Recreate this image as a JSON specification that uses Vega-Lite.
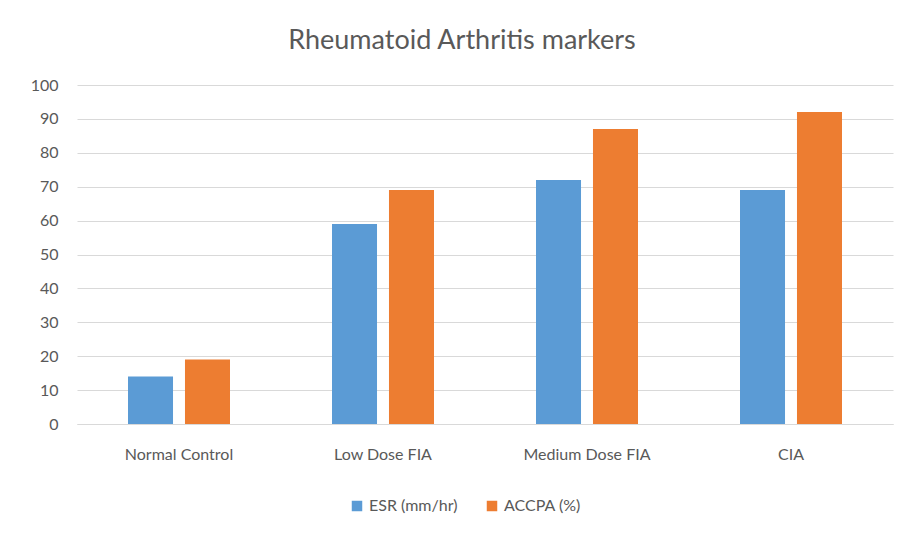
{
  "$schema": "https://vega.github.io/schema/vega-lite/v6.json",
  "width": 816,
  "height": 339,
  "autosize": "none",
  "padding": {"left": 77, "top": 85, "right": 14, "bottom": 109},
  "background": "white",
  "title": {
    "text": "Rheumatoid Arthritis markers",
    "font": "Lato",
    "fontSize": 27,
    "fontWeight": "normal",
    "color": "#595959",
    "anchor": "middle",
    "dx": -23,
    "offset": 22
  },
  "data": {
    "values": [
      {"group": "Normal Control", "series": "ESR (mm/hr)", "value": 14},
      {"group": "Normal Control", "series": "ACCPA (%)", "value": 19},
      {"group": "Low Dose FIA", "series": "ESR (mm/hr)", "value": 59},
      {"group": "Low Dose FIA", "series": "ACCPA (%)", "value": 69},
      {"group": "Medium Dose FIA", "series": "ESR (mm/hr)", "value": 72},
      {"group": "Medium Dose FIA", "series": "ACCPA (%)", "value": 87},
      {"group": "CIA", "series": "ESR (mm/hr)", "value": 69},
      {"group": "CIA", "series": "ACCPA (%)", "value": 92}
    ]
  },
  "mark": {"type": "bar"},
  "encoding": {
    "x": {
      "field": "group",
      "type": "nominal",
      "sort": ["Normal Control", "Low Dose FIA", "Medium Dose FIA", "CIA"],
      "scale": {"paddingInner": 0.5, "paddingOuter": 0.25},
      "axis": {
        "title": null,
        "labelAngle": 0,
        "labelFont": "Lato",
        "labelFontSize": 16,
        "labelColor": "#595959",
        "labelPadding": 22,
        "ticks": false,
        "domainColor": "#d9d9d9",
        "domainWidth": 1
      }
    },
    "xOffset": {
      "field": "series",
      "type": "nominal",
      "sort": ["ESR (mm/hr)", "ACCPA (%)"],
      "scale": {"paddingInner": 0.21, "paddingOuter": 0}
    },
    "y": {
      "field": "value",
      "type": "quantitative",
      "scale": {"domain": [0, 100], "nice": false},
      "axis": {
        "title": null,
        "values": [0, 10, 20, 30, 40, 50, 60, 70, 80, 90, 100],
        "labelFont": "Lato",
        "labelFontSize": 16,
        "labelColor": "#595959",
        "labelPadding": 19,
        "ticks": false,
        "domain": false,
        "gridColor": "#d9d9d9",
        "gridWidth": 1
      }
    },
    "color": {
      "field": "series",
      "type": "nominal",
      "sort": ["ESR (mm/hr)", "ACCPA (%)"],
      "scale": {"domain": ["ESR (mm/hr)", "ACCPA (%)"], "range": ["#5B9BD5", "#ED7D31"]},
      "legend": {
        "title": null,
        "orient": "none",
        "legendX": 272,
        "legendY": 413,
        "direction": "horizontal",
        "symbolType": "square",
        "symbolSize": 110,
        "symbolStrokeWidth": 0,
        "labelFont": "Lato",
        "labelFontSize": 16,
        "labelColor": "#595959",
        "columnPadding": 26
      }
    }
  },
  "config": {"view": {"stroke": null}}
}
